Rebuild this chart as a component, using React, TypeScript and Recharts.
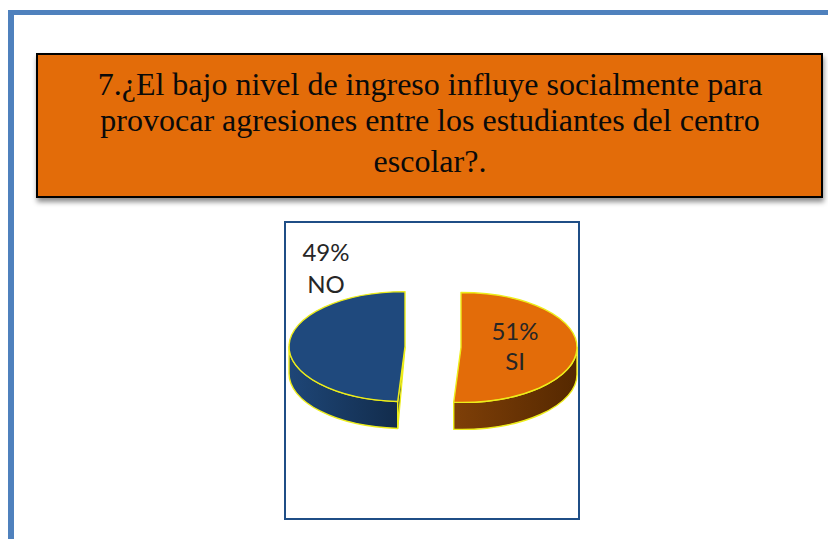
import React from 'react';
import { PieChart, Pie, Cell } from 'recharts';

const categories = ['SI', 'NO'];
const values = [51, 49];
const sliceColors = ['#E36C09', '#1F497D'];
const wallStops = [['#7E3F08', '#552800'], ['#1E4677', '#122C4C']];
const titleLines = [
  '7.¿El bajo nivel de ingreso influye socialmente para',
  'provocar agresiones entre los estudiantes del centro',
  'escolar?.',
];

const rows = categories.map((name, i) => ({ name, value: values[i] }));

const TILT = 0.474;
const DEPTH = 27;
const EXPLODE = 28;
const RIM = '#EDED1A';

const rad = (d: number) => (d * Math.PI) / 180;

function PieSlice(props: any) {
  const { cx, cy, outerRadius: r, startAngle, endAngle, midAngle, fill, index } = props;
  const b = r * TILT;
  const t0 = 90 - startAngle;
  const t1 = 90 - endAngle;
  const tm = 90 - (midAngle ?? (startAngle + endAngle) / 2);
  const ox = cx + EXPLODE * Math.sin(rad(tm));
  const oy = cy - EXPLODE * Math.cos(rad(tm)) * TILT;
  const pt = (t: number) => [ox + r * Math.sin(rad(t)), oy - b * Math.cos(rad(t))];
  const [sx, sy] = pt(t0);
  const [ex, ey] = pt(t1);
  const large = t1 - t0 > 180 ? 1 : 0;
  const top = `M${ox},${oy} L${sx},${sy} A${r},${b} 0 ${large} 1 ${ex},${ey} Z`;
  const w0 = Math.max(t0, 90);
  const w1 = Math.min(t1, 270);
  const [ax, ay] = pt(w0);
  const [zx, zy] = pt(w1);
  const wall = `M${ax},${ay} A${r},${b} 0 0 1 ${zx},${zy} L${zx},${zy + DEPTH} A${r},${b} 0 0 0 ${ax},${ay + DEPTH} Z`;
  const gid = `wall-${index}`;
  const stops = wallStops[index] ?? wallStops[0];
  return (
    <g>
      <defs>
        <linearGradient id={gid} x1="0" y1="0" x2="1" y2="0">
          <stop offset="0%" stopColor={stops[0]} />
          <stop offset="100%" stopColor={stops[1]} />
        </linearGradient>
      </defs>
      <path d={wall} fill={`url(#${gid})`} stroke={RIM} strokeWidth={1.4} strokeLinejoin="round" />
      {sx < ox && (
        <path d={`M${ox},${oy} L${sx},${sy} L${sx},${sy + DEPTH} Z`} fill={stops[1]} stroke={RIM} strokeWidth={1.4} />
      )}
      <path d={top} fill={fill} stroke={RIM} strokeWidth={1.4} strokeLinejoin="round" />
    </g>
  );
}

const labelAnchors: Record<string, [number, number]> = { SI: [82, -15], NO: [-107, -94] };

function SliceLabel(props: any) {
  const { cx, cy, name, value } = props;
  const [dx, dy] = labelAnchors[name];
  const style = { fontFamily: 'Lato, "Open Sans", sans-serif', fontSize: 24, fill: '#262626' };
  return (
    <g>
      <text x={cx + dx} y={cy + dy + 8} textAnchor="middle" style={style}>{`${value}%`}</text>
      <text x={cx + dx} y={cy + dy + (name === 'SI' ? 38 : 40)} textAnchor="middle" style={style}>{name}</text>
    </g>
  );
}

export default function App() {
  return (
    <div style={{ position: 'absolute', left: 0, top: 0, width: 828, height: 539, background: '#fff', overflow: 'hidden' }}>
      <div style={{ position: 'absolute', left: 8, top: 10, width: 820, height: 5, background: '#4F81BD' }} />
      <div style={{ position: 'absolute', left: 8, top: 10, width: 6, height: 529, background: '#4F81BD' }} />
      <div
        style={{
          position: 'absolute', left: 36, top: 53, width: 783, height: 141,
          background: '#E36C09', border: '2px solid #000',
          boxShadow: '1px 4px 5px rgba(0,0,0,0.45)',
        }}
      />
      {titleLines.map((line, i) => (
        <div
          key={i}
          style={{
            position: 'absolute', left: 37, width: 786, top: [65, 101, 142][i], textAlign: 'center',
            fontFamily: '"Liberation Serif", serif', fontSize: 32, lineHeight: '38px', color: '#0A0A0A', whiteSpace: 'nowrap',
          }}
        >
          {line}
        </div>
      ))}
      <div style={{ position: 'absolute', left: 284, top: 221, width: 292, height: 295, border: '2px solid #1F4E86' }} />
      <div style={{ position: 'absolute', left: 284, top: 221 }}>
        <PieChart width={296} height={299} margin={{ top: 0, right: 0, bottom: 0, left: 0 }}>
          <Pie
            data={rows}
            dataKey="value"
            nameKey="name"
            cx={149}
            cy={126}
            outerRadius={116}
            startAngle={90}
            endAngle={-270}
            isAnimationActive={false}
            shape={PieSlice}
            label={SliceLabel}
            labelLine={false}
          >
            {rows.map((r, i) => (
              <Cell key={r.name} fill={sliceColors[i]} />
            ))}
          </Pie>
        </PieChart>
      </div>
    </div>
  );
}
